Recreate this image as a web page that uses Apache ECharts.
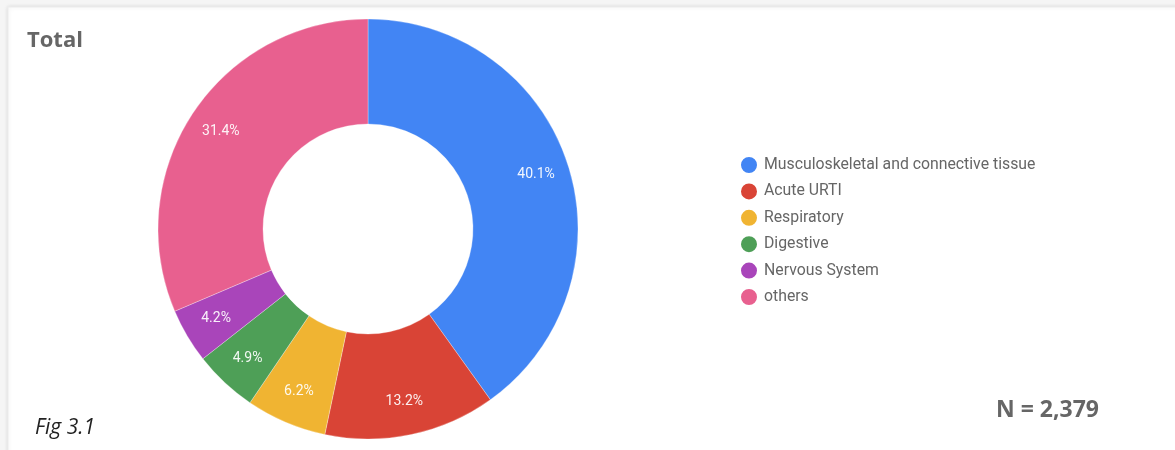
<!DOCTYPE html>
<html>
<head>
<meta charset="utf-8">
<script src="https://cdn.jsdelivr.net/npm/echarts@6/dist/echarts.min.js"></script>
<style>
html,body{margin:0;padding:0;background:#f5f5f5;}
#chart{width:1175px;height:450px;}
</style>
</head>
<body>
<div id="chart"></div>
<script>
const categories = ["Musculoskeletal and connective tissue","Acute URTI","Respiratory","Digestive","Nervous System","others"];
const percents = [40.1, 13.2, 6.2, 4.9, 4.2, 31.4];
const colors = ["#4285F4","#D94436","#F0B432","#4E9F57","#A945BA","#E8608F"];
const titleText = "Total";
const nText = "N = 2,379";
const figText = "Fig 3.1";

const chart = echarts.init(document.getElementById('chart'));
const pieData = categories.map((c,i)=>({name:c, value:percents[i], itemStyle:{color:colors[i]}}));
const labelData = categories.map((c,i)=>({name:c, value:percents[i], itemStyle:{color:'rgba(0,0,0,0)'}}));

chart.setOption({
  animation:false,
  color: colors,
  graphic:[
    {type:'rect', z:-10, shape:{x:8,y:7,width:1175,height:450},
     style:{fill:'#ffffff', stroke:'#ececec', lineWidth:1, shadowBlur:4, shadowColor:'rgba(0,0,0,0.12)'}},
    {type:'text', left:27, top:30, style:{text:titleText, fill:'#666666', font:'bold 22px "Open Sans", sans-serif'}},
    {type:'text', left:996, top:399, style:{text:nText, fill:'#666666', font:'bold 23px "Open Sans", sans-serif'}},
    {type:'text', left:35, top:418, style:{text:figText, fill:'#222222', font:'italic 21px "Open Sans", sans-serif'}}
  ],
  legend:{
    orient:'vertical', left:734, top:150,
    icon:'circle', itemWidth:18, itemHeight:18, itemGap:6.4,
    textStyle:{color:'#666666', fontSize:15.8, fontFamily:'Roboto, sans-serif', padding:[0,0,0,1]},
    data: categories.map((c,i)=>({name:c, itemStyle:{color:colors[i]}}))
  },
  series:[
    {type:'pie', center:[368,229], radius:[105,210], startAngle:90, clockwise:true,
     data:pieData, label:{show:false}, labelLine:{show:false},
     itemStyle:{borderColor:'#ffffff', borderWidth:0.3}, emphasis:{disabled:true}},
    {type:'pie', center:[368,229], radius:[137,210], startAngle:90, clockwise:true, silent:true,
     legendHoverLink:false,
     data:labelData, labelLine:{show:false},
     label:{show:true, position:'inside', formatter:'{c}%', color:'rgba(255,255,255,0.92)', fontSize:14, fontFamily:'Roboto, sans-serif'},
     emphasis:{disabled:true}}
  ]
});
</script>
</body>
</html>
